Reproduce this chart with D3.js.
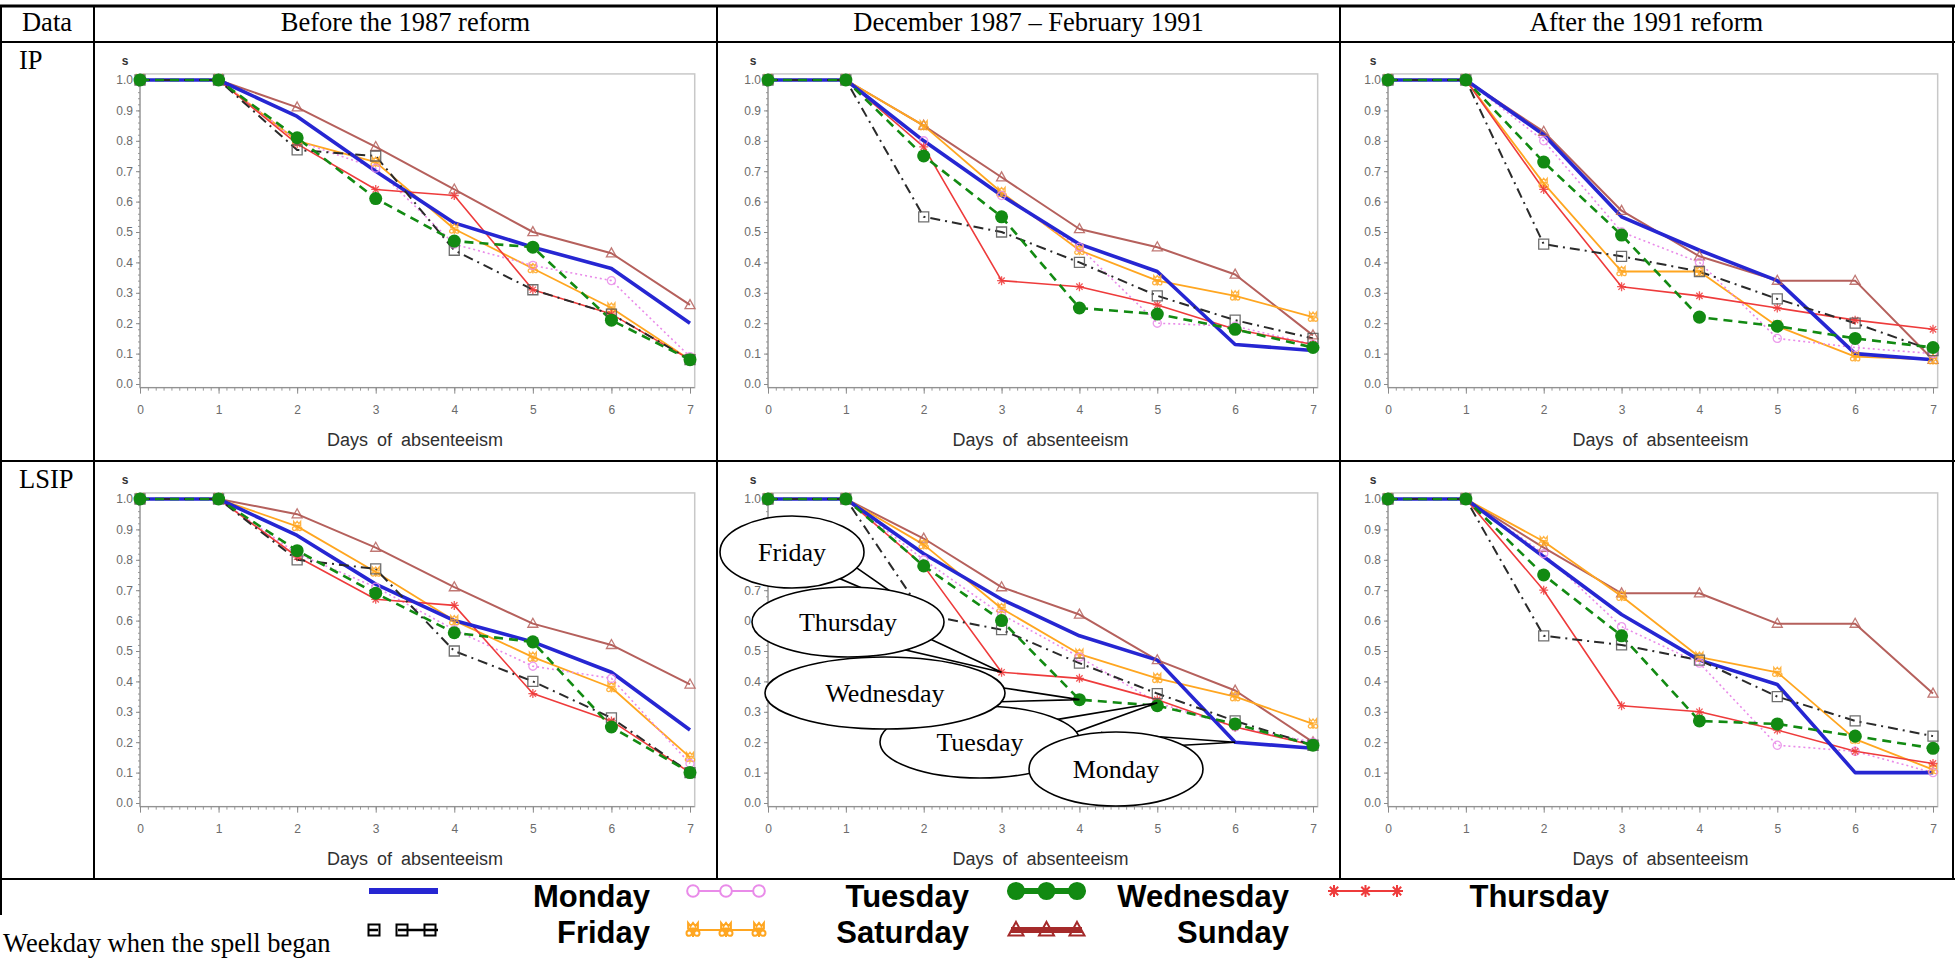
<!DOCTYPE html>
<html><head><meta charset="utf-8">
<script src="https://cdn.jsdelivr.net/npm/d3@7"></script>
<style>body{margin:0;background:#fff} svg{display:block}</style>
</head><body><svg id="c" width="1955" height="960"></svg>
<script>
// ---------------- DATA ----------------
const days = [0, 1, 2, 3, 4, 5, 6, 7];
const weekdays = ["Monday", "Tuesday", "Wednesday", "Thursday", "Friday", "Saturday", "Sunday"];
const periods = ["Before the 1987 reform", "December 1987 \u2013 February 1991", "After the 1991 reform"];
const dataTypes = ["IP", "LSIP"];
const yTickValues = [0, 0.1, 0.2, 0.3, 0.4, 0.5, 0.6, 0.7, 0.8, 0.9, 1.0];
const xTickValues = [0, 1, 2, 3, 4, 5, 6, 7];
const legendRows = [["Monday", "Tuesday", "Wednesday", "Thursday"], ["Friday", "Saturday", "Sunday"]];
const calloutLabels = ["Friday", "Thursday", "Tuesday", "Wednesday", "Monday"];
const calloutTargetDays = [2, 3, 5, 4, 6];

// survival s by day, rows in weekday order Mon..Sun
const ipBefore = [
  [1, 1, 0.88, 0.70, 0.53, 0.45, 0.38, 0.20],
  [1, 1, 0.80, 0.71, 0.46, 0.39, 0.34, 0.09],
  [1, 1, 0.81, 0.61, 0.47, 0.45, 0.21, 0.08],
  [1, 1, 0.79, 0.64, 0.62, 0.31, 0.23, 0.08],
  [1, 1, 0.77, 0.75, 0.44, 0.31, 0.23, 0.08],
  [1, 1, 0.80, 0.73, 0.51, 0.38, 0.25, 0.08],
  [1, 1, 0.91, 0.78, 0.64, 0.50, 0.43, 0.26]
];
const ipDec87 = [
  [1, 1, 0.80, 0.62, 0.46, 0.37, 0.13, 0.11],
  [1, 1, 0.80, 0.62, 0.45, 0.20, 0.19, 0.13],
  [1, 1, 0.75, 0.55, 0.25, 0.23, 0.18, 0.12],
  [1, 1, 0.78, 0.34, 0.32, 0.26, 0.18, 0.13],
  [1, 1, 0.55, 0.50, 0.40, 0.29, 0.21, 0.15],
  [1, 1, 0.85, 0.63, 0.44, 0.34, 0.29, 0.22],
  [1, 1, 0.85, 0.68, 0.51, 0.45, 0.36, 0.16]
];
const ipAfter = [
  [1, 1, 0.82, 0.55, 0.44, 0.34, 0.10, 0.08],
  [1, 1, 0.80, 0.50, 0.40, 0.15, 0.12, 0.10],
  [1, 1, 0.73, 0.49, 0.22, 0.19, 0.15, 0.12],
  [1, 1, 0.64, 0.32, 0.29, 0.25, 0.21, 0.18],
  [1, 1, 0.46, 0.42, 0.37, 0.28, 0.20, 0.11],
  [1, 1, 0.66, 0.37, 0.37, 0.19, 0.09, 0.08],
  [1, 1, 0.83, 0.57, 0.42, 0.34, 0.34, 0.08]
];
const lsipBefore = [
  [1, 1, 0.88, 0.72, 0.60, 0.53, 0.43, 0.24],
  [1, 1, 0.82, 0.71, 0.57, 0.45, 0.41, 0.13],
  [1, 1, 0.83, 0.69, 0.56, 0.53, 0.25, 0.10],
  [1, 1, 0.81, 0.67, 0.65, 0.36, 0.27, 0.10],
  [1, 1, 0.80, 0.77, 0.50, 0.40, 0.28, 0.10],
  [1, 1, 0.91, 0.76, 0.60, 0.48, 0.38, 0.15],
  [1, 1, 0.95, 0.84, 0.71, 0.59, 0.52, 0.39]
];
const lsipDec87 = [
  [1, 1, 0.82, 0.67, 0.55, 0.47, 0.20, 0.18],
  [1, 1, 0.80, 0.62, 0.48, 0.33, 0.25, 0.20],
  [1, 1, 0.78, 0.60, 0.34, 0.32, 0.26, 0.19],
  [1, 1, 0.78, 0.43, 0.41, 0.34, 0.25, 0.19],
  [1, 1, 0.62, 0.57, 0.46, 0.36, 0.27, 0.19],
  [1, 1, 0.85, 0.64, 0.49, 0.41, 0.35, 0.26],
  [1, 1, 0.87, 0.71, 0.62, 0.47, 0.37, 0.20]
];
const lsipAfter = [
  [1, 1, 0.81, 0.62, 0.47, 0.39, 0.10, 0.10],
  [1, 1, 0.82, 0.58, 0.46, 0.19, 0.17, 0.10],
  [1, 1, 0.75, 0.55, 0.27, 0.26, 0.22, 0.18],
  [1, 1, 0.70, 0.32, 0.30, 0.24, 0.17, 0.13],
  [1, 1, 0.55, 0.52, 0.47, 0.35, 0.27, 0.22],
  [1, 1, 0.86, 0.68, 0.48, 0.43, 0.21, 0.11],
  [1, 1, 0.84, 0.69, 0.69, 0.59, 0.59, 0.36]
];

// ---------------- LAYOUT & STYLE ----------------
const colX = [0, 94, 717, 1340, 1953];
const rowY = [6, 42, 461, 879];
const plotX = [[140, 690], [768, 1313], [1388, 1933]];
const plotY = [[80, 384], [499, 803]];
const SERIF = "'Liberation Serif','Times New Roman',serif";
const SANS = "'Liberation Sans',Arial,Helvetica,sans-serif";
const SERIF_SIZE = 26.5;

const styles = {
  Monday:    {color: "#2626d2", width: 3.6, dash: null, marker: "none"},
  Tuesday:   {color: "#e98be9", width: 1.6, dash: "2,3", marker: "circle"},
  Wednesday: {color: "#128a12", width: 2.6, dash: "9,6", marker: "dot"},
  Thursday:  {color: "#ee3b3b", width: 1.6, dash: null, marker: "star"},
  Friday:    {color: "#2a2a2a", width: 2.0, dash: "10,5,2,5", marker: "square"},
  Saturday:  {color: "#ffa620", width: 1.8, dash: null, marker: "clover"},
  Sunday:    {color: "#b5605c", width: 2.0, dash: null, marker: "triangle"}
};
const legendColors = {Sunday: "#a52a2a"};
const drawOrder = ["Sunday", "Saturday", "Tuesday", "Thursday", "Monday", "Friday", "Wednesday"];

function circlePath(cx, cy, r) {
  return `M${cx - r},${cy}a${r},${r} 0 1,0 ${2 * r},0a${r},${r} 0 1,0 ${-2 * r},0`;
}
function markerPath(type, s) {
  switch (type) {
    case "circle": return circlePath(0, 0, s * 0.45);
    case "dot": return circlePath(0, 0, s * 0.62);
    case "square": return `M${-s / 2},${-s / 2}h${s}v${s}h${-s}Z`;
    case "triangle": { const h = s * 0.9; return `M0,${-h * 0.6}L${s / 2},${h * 0.4}L${-s / 2},${h * 0.4}Z`; }
    case "star": { const a = s / 2, b = a * 0.7;
      return `M${-a},0H${a}M0,${-a}V${a}M${-b},${-b}L${b},${b}M${-b},${b}L${b},${-b}`; }
    case "clover": { const a = s / 2;
      return `M${-a * 0.7},${-a}L${-a * 0.7},${-a * 0.2}L${a * 0.7},${-a * 0.2}L${a * 0.7},${-a}L${a * 0.35},${-a * 0.55}L0,${-a}L${-a * 0.35},${-a * 0.55}Z` +
        `M0,${-a * 0.2}V${a}` + circlePath(-a * 0.55, a * 0.45, a * 0.38) + circlePath(a * 0.55, a * 0.45, a * 0.38); }
  }
  return "";
}

const svg = d3.select("#c");
svg.append("rect").attr("width", 1955).attr("height", 960).attr("fill", "#fff");

// ---------------- PANELS ----------------
const panelData = [[ipBefore, ipDec87, ipAfter], [lsipBefore, lsipDec87, lsipAfter]];
const panelScales = {};

panelData.forEach((rowArr, r) => rowArr.forEach((series, c) => {
  const x = d3.scaleLinear().domain([0, 7]).range(plotX[c]);
  const y = d3.scaleLinear().domain([0, 1]).range([plotY[r][1], plotY[r][0]]);
  panelScales[r + "-" + c] = {x, y};
  const pg = svg.append("g");

  // frame
  pg.append("rect")
    .attr("x", x(0)).attr("y", y(1.02))
    .attr("width", x(7.06) - x(0)).attr("height", y(-0.012) - y(1.02))
    .attr("fill", "none").attr("stroke", "#c8c8c8").attr("stroke-width", 1.5);

  // y axis minor + major
  const yMinor = pg.append("g").attr("transform", `translate(${x(0)},0)`)
    .call(d3.axisLeft(y).tickValues(d3.range(0, 1.0001, 0.02)).tickSize(2).tickFormat("").tickSizeOuter(0));
  yMinor.select(".domain").remove();
  yMinor.selectAll("line").attr("stroke", "#9a9a9a");
  const yAx = pg.append("g").attr("transform", `translate(${x(0)},0)`)
    .call(d3.axisLeft(y).tickValues(yTickValues).tickFormat(d3.format(".1f")).tickSize(4).tickPadding(3).tickSizeOuter(0));
  yAx.select(".domain").attr("stroke", "#8a8a8a").attr("d", `M0,${y(-0.012)}V${y(1.02)}`);
  yAx.selectAll("line").attr("stroke", "#8a8a8a");
  yAx.selectAll("text").attr("font-family", SANS).attr("font-size", 12).attr("fill", "#6b6b6b");

  // x axis minor + major
  const xBase = y(-0.012);
  const xMinor = pg.append("g").attr("transform", `translate(0,${xBase})`)
    .call(d3.axisBottom(x).tickValues(d3.range(0, 7.0001, 0.1)).tickSize(3).tickFormat("").tickSizeOuter(0));
  xMinor.select(".domain").remove();
  xMinor.selectAll("line").attr("stroke", "#9a9a9a");
  const xAx = pg.append("g").attr("transform", `translate(0,${xBase})`)
    .call(d3.axisBottom(x).tickValues(xTickValues).tickFormat(d3.format("d")).tickSize(6).tickPadding(12).tickSizeOuter(0));
  xAx.select(".domain").attr("stroke", "#8a8a8a").attr("d", `M${x(0)},0H${x(7.06)}`);
  xAx.selectAll("line").attr("stroke", "#8a8a8a");
  xAx.selectAll("text").attr("font-family", SANS).attr("font-size", 12).attr("fill", "#6b6b6b");

  // axis titles
  pg.append("text").attr("x", (x(0) + x(7)) / 2).attr("y", y(0) + 62)
    .attr("text-anchor", "middle").attr("font-family", SANS).attr("font-size", 18)
    .attr("word-spacing", 4).attr("fill", "#303030").text("Days of absenteeism");
  pg.append("text").attr("x", x(0) - 15).attr("y", y(1) - 15)
    .attr("text-anchor", "middle").attr("font-family", SANS).attr("font-size", 12)
    .attr("font-weight", "bold").attr("fill", "#333").text("s");

  // lines
  const line = d3.line().x((d, i) => x(days[i])).y(d => y(d));
  drawOrder.forEach(name => {
    const st = styles[name];
    const vals = series[weekdays.indexOf(name)];
    pg.append("path").attr("d", line(vals)).attr("fill", "none")
      .attr("stroke", st.color).attr("stroke-width", st.width)
      .attr("stroke-dasharray", st.dash).attr("stroke-linejoin", "round");
  });
  // markers
  drawOrder.forEach(name => {
    const st = styles[name];
    if (st.marker === "none") return;
    const vals = series[weekdays.indexOf(name)];
    const size = {circle: 9, dot: 10.5, square: 10, triangle: 10, star: 9, clover: 10}[st.marker];
    pg.append("g").selectAll("path").data(vals).join("path")
      .attr("transform", (d, i) => `translate(${x(days[i])},${y(d)})`)
      .attr("d", markerPath(st.marker, size))
      .attr("fill", st.marker === "dot" ? st.color : "none")
      .attr("stroke", st.marker === "square" ? "#555" : st.color)
      .attr("stroke-width", st.marker === "dot" ? 0 : 1.3)
      .attr("opacity", st.marker === "dot" ? 1 : 0.85);
  });
}));

// ---------------- CALLOUTS (LSIP, Dec 1987 - Feb 1991) ----------------
const calloutGeom = {
  Friday:    {cx: 75,  cy: 91,  rx: 72,  ry: 36, a0: -26, a1: -48},
  Thursday:  {cx: 131, cy: 161, rx: 96,  ry: 35, a0: -30, a1: -53},
  Tuesday:   {cx: 263, cy: 281, rx: 100, ry: 36, a0: 39,  a1: 16},
  Wednesday: {cx: 168, cy: 232, rx: 120, ry: 36, a0: 8,   a1: -14},
  Monday:    {cx: 399, cy: 308, rx: 87,  ry: 37, a0: 100, a1: 40}
};
{
  const {x, y} = panelScales["1-1"];
  const ox = colX[2], oy = rowY[2];
  const cg = svg.append("g");
  calloutLabels.forEach((lab, k) => {
    const g0 = calloutGeom[lab];
    const cx = ox + g0.cx, cy = oy + g0.cy;
    const pt = a => [cx + g0.rx * Math.cos(a * Math.PI / 180), cy - g0.ry * Math.sin(a * Math.PI / 180)];
    const d = calloutTargetDays[k];
    const tip = [x(days[d]), y(lsipDec87[weekdays.indexOf(lab)][d])];
    const b0 = pt(g0.a0), b1 = pt(g0.a1);
    cg.append("path").attr("d", `M${b0}L${tip}L${b1}Z`)
      .attr("fill", "#fff").attr("stroke", "#000").attr("stroke-width", 1.6).attr("stroke-linejoin", "miter");
    cg.append("ellipse").attr("cx", cx).attr("cy", cy).attr("rx", g0.rx).attr("ry", g0.ry)
      .attr("fill", "#fff").attr("stroke", "#000").attr("stroke-width", 1.6);
    cg.append("text").attr("x", cx).attr("y", cy + 9).attr("text-anchor", "middle")
      .attr("font-family", SERIF).attr("font-size", 26).attr("fill", "#000").text(lab);
  });
}

// ---------------- TABLE ----------------
const tg = svg.append("g").attr("stroke", "#000");
tg.append("line").attr("x1", 0).attr("x2", 1955).attr("y1", rowY[0]).attr("y2", rowY[0]).attr("stroke-width", 3);
[rowY[1], rowY[2], rowY[3]].forEach(yy =>
  tg.append("line").attr("x1", 0).attr("x2", 1955).attr("y1", yy).attr("y2", yy).attr("stroke-width", 2));
[colX[1], colX[2], colX[3], colX[4]].forEach(xx =>
  tg.append("line").attr("x1", xx).attr("x2", xx).attr("y1", rowY[0]).attr("y2", rowY[3]).attr("stroke-width", 2));
tg.append("line").attr("x1", 1).attr("x2", 1).attr("y1", rowY[0]).attr("y2", 915).attr("stroke-width", 2);

const headerBase = 31;
svg.append("text").attr("x", (colX[0] + colX[1]) / 2).attr("y", headerBase).attr("text-anchor", "middle")
  .attr("font-family", SERIF).attr("font-size", SERIF_SIZE).text("Data");
periods.forEach((p, i) => svg.append("text")
  .attr("x", (colX[i + 1] + colX[i + 2]) / 2).attr("y", headerBase).attr("text-anchor", "middle")
  .attr("font-family", SERIF).attr("font-size", SERIF_SIZE).text(p));
dataTypes.forEach((t, i) => svg.append("text")
  .attr("x", 19).attr("y", rowY[i + 1] + 27)
  .attr("font-family", SERIF).attr("font-size", SERIF_SIZE).text(t));
svg.append("text").attr("x", 3).attr("y", 952).attr("font-family", SERIF).attr("font-size", SERIF_SIZE)
  .text("Weekday when the spell began");

// ---------------- LEGEND ----------------
const legMarkX0 = [369, 688, 1011, 1329];
const legMarkX1 = [438, 764, 1082, 1402];
const legTextEnd = [650, 969, 1289, 1609];
const legLineY = [891, 930];
const legTextY = [907, 943];
const lg = svg.append("g");
legendRows.forEach((row, r) => row.forEach((name, c) => {
  const st = styles[name];
  const color = legendColors[name] || st.color;
  const x0 = legMarkX0[c], x1 = legMarkX1[c], yy = legLineY[r];
  const xm = [x0 + 5, (x0 + x1) / 2, x1 - 5];
  if (name === "Monday") {
    lg.append("line").attr("x1", x0).attr("x2", x1).attr("y1", yy).attr("y2", yy)
      .attr("stroke", color).attr("stroke-width", 6);
  } else if (name === "Friday") {
    lg.append("path").attr("d", `M${x0},${yy}H${x0 + 9}M${x0 + 29},${yy}H${x1}`)
      .attr("stroke", "#000").attr("stroke-width", 2.5);
    [x0 + 5, x0 + 33, x1 - 8].forEach(mx => lg.append("path")
      .attr("transform", `translate(${mx},${yy})`).attr("d", markerPath("square", 11))
      .attr("fill", "none").attr("stroke", "#000").attr("stroke-width", 2));
  } else {
    const thick = (name === "Wednesday" || name === "Sunday") ? 6 : 2;
    lg.append("line").attr("x1", x0).attr("x2", x1).attr("y1", yy).attr("y2", yy)
      .attr("stroke", color).attr("stroke-width", thick);
    const sz = {circle: 13, dot: 13, star: 12, clover: 14, triangle: 15}[st.marker];
    xm.forEach(mx => lg.append("path")
      .attr("transform", `translate(${mx},${yy})`).attr("d", markerPath(st.marker, sz))
      .attr("fill", st.marker === "dot" ? color : (st.marker === "circle" ? "#fff" : "none"))
      .attr("stroke", color).attr("stroke-width", 2));
  }
  lg.append("text").attr("x", legTextEnd[c]).attr("y", legTextY[r]).attr("text-anchor", "end")
    .attr("font-family", SANS).attr("font-weight", "bold").attr("font-size", 31).attr("fill", "#000").text(name);
}));
</script>
</body></html>
